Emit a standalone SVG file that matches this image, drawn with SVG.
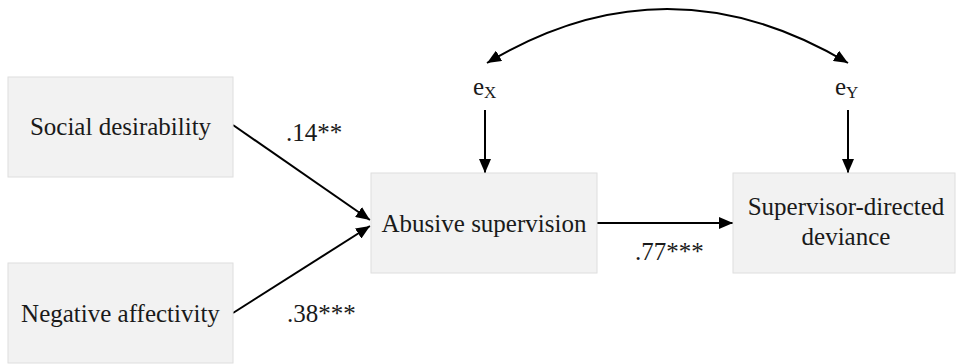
<svg xmlns="http://www.w3.org/2000/svg" width="957" height="364" viewBox="0 0 957 364">
<style>
.box{fill:#f2f2f2;stroke:#dedede;stroke-width:1}
text{font-family:'Liberation Serif','Times New Roman',Times,serif;font-size:25px;fill:#1a1a1a}
.c{fill:none;stroke:#000;stroke-width:2}
</style>
<defs>
<marker id="ah" viewBox="0 0 14 12" refX="14" refY="6" markerWidth="14" markerHeight="12" markerUnits="userSpaceOnUse" orient="auto-start-reverse">
<path d="M0,0 L14,6 L0,12 Z" fill="#000"/>
</marker>
</defs>
<rect width="957" height="364" fill="#fff"/>
<g id="connectors">
<line class="c" x1="233" y1="125" x2="370" y2="220" marker-end="url(#ah)"/>
<line class="c" x1="233" y1="313" x2="370" y2="226" marker-end="url(#ah)"/>
<line class="c" x1="597" y1="223" x2="733" y2="223" marker-end="url(#ah)"/>
<line class="c" x1="485" y1="110" x2="485" y2="173" marker-end="url(#ah)"/>
<line class="c" x1="848" y1="110" x2="848" y2="173" marker-end="url(#ah)"/>
<path class="c" d="M487,63 Q667,-45 848,63" marker-start="url(#ah)" marker-end="url(#ah)"/>
<text x="286" y="141">.14**</text>
<text x="287" y="322">.38***</text>
<text x="635" y="260">.77***</text>
</g>
<g id="social">
<rect class="box" x="8" y="77" width="225" height="100"/>
<text x="120.5" y="135" text-anchor="middle">Social desirability</text>
</g>
<g id="negative">
<rect class="box" x="8" y="263" width="225" height="100"/>
<text x="120.5" y="322" text-anchor="middle">Negative affectivity</text>
</g>
<g id="abusive">
<rect class="box" x="371" y="173" width="226" height="100"/>
<text x="484" y="232" text-anchor="middle">Abusive supervision</text>
</g>
<g id="deviance">
<rect class="box" x="733" y="173" width="222" height="100"/>
<text x="846" y="215" text-anchor="middle">Supervisor-directed</text>
<text x="846" y="245" text-anchor="middle">deviance</text>
</g>
<g id="ex">
<text x="473" y="95">e<tspan font-size="17" dy="3">X</tspan></text>
</g>
<g id="ey">
<text x="835" y="95">e<tspan font-size="17" dy="3">Y</tspan></text>
</g>
</svg>
